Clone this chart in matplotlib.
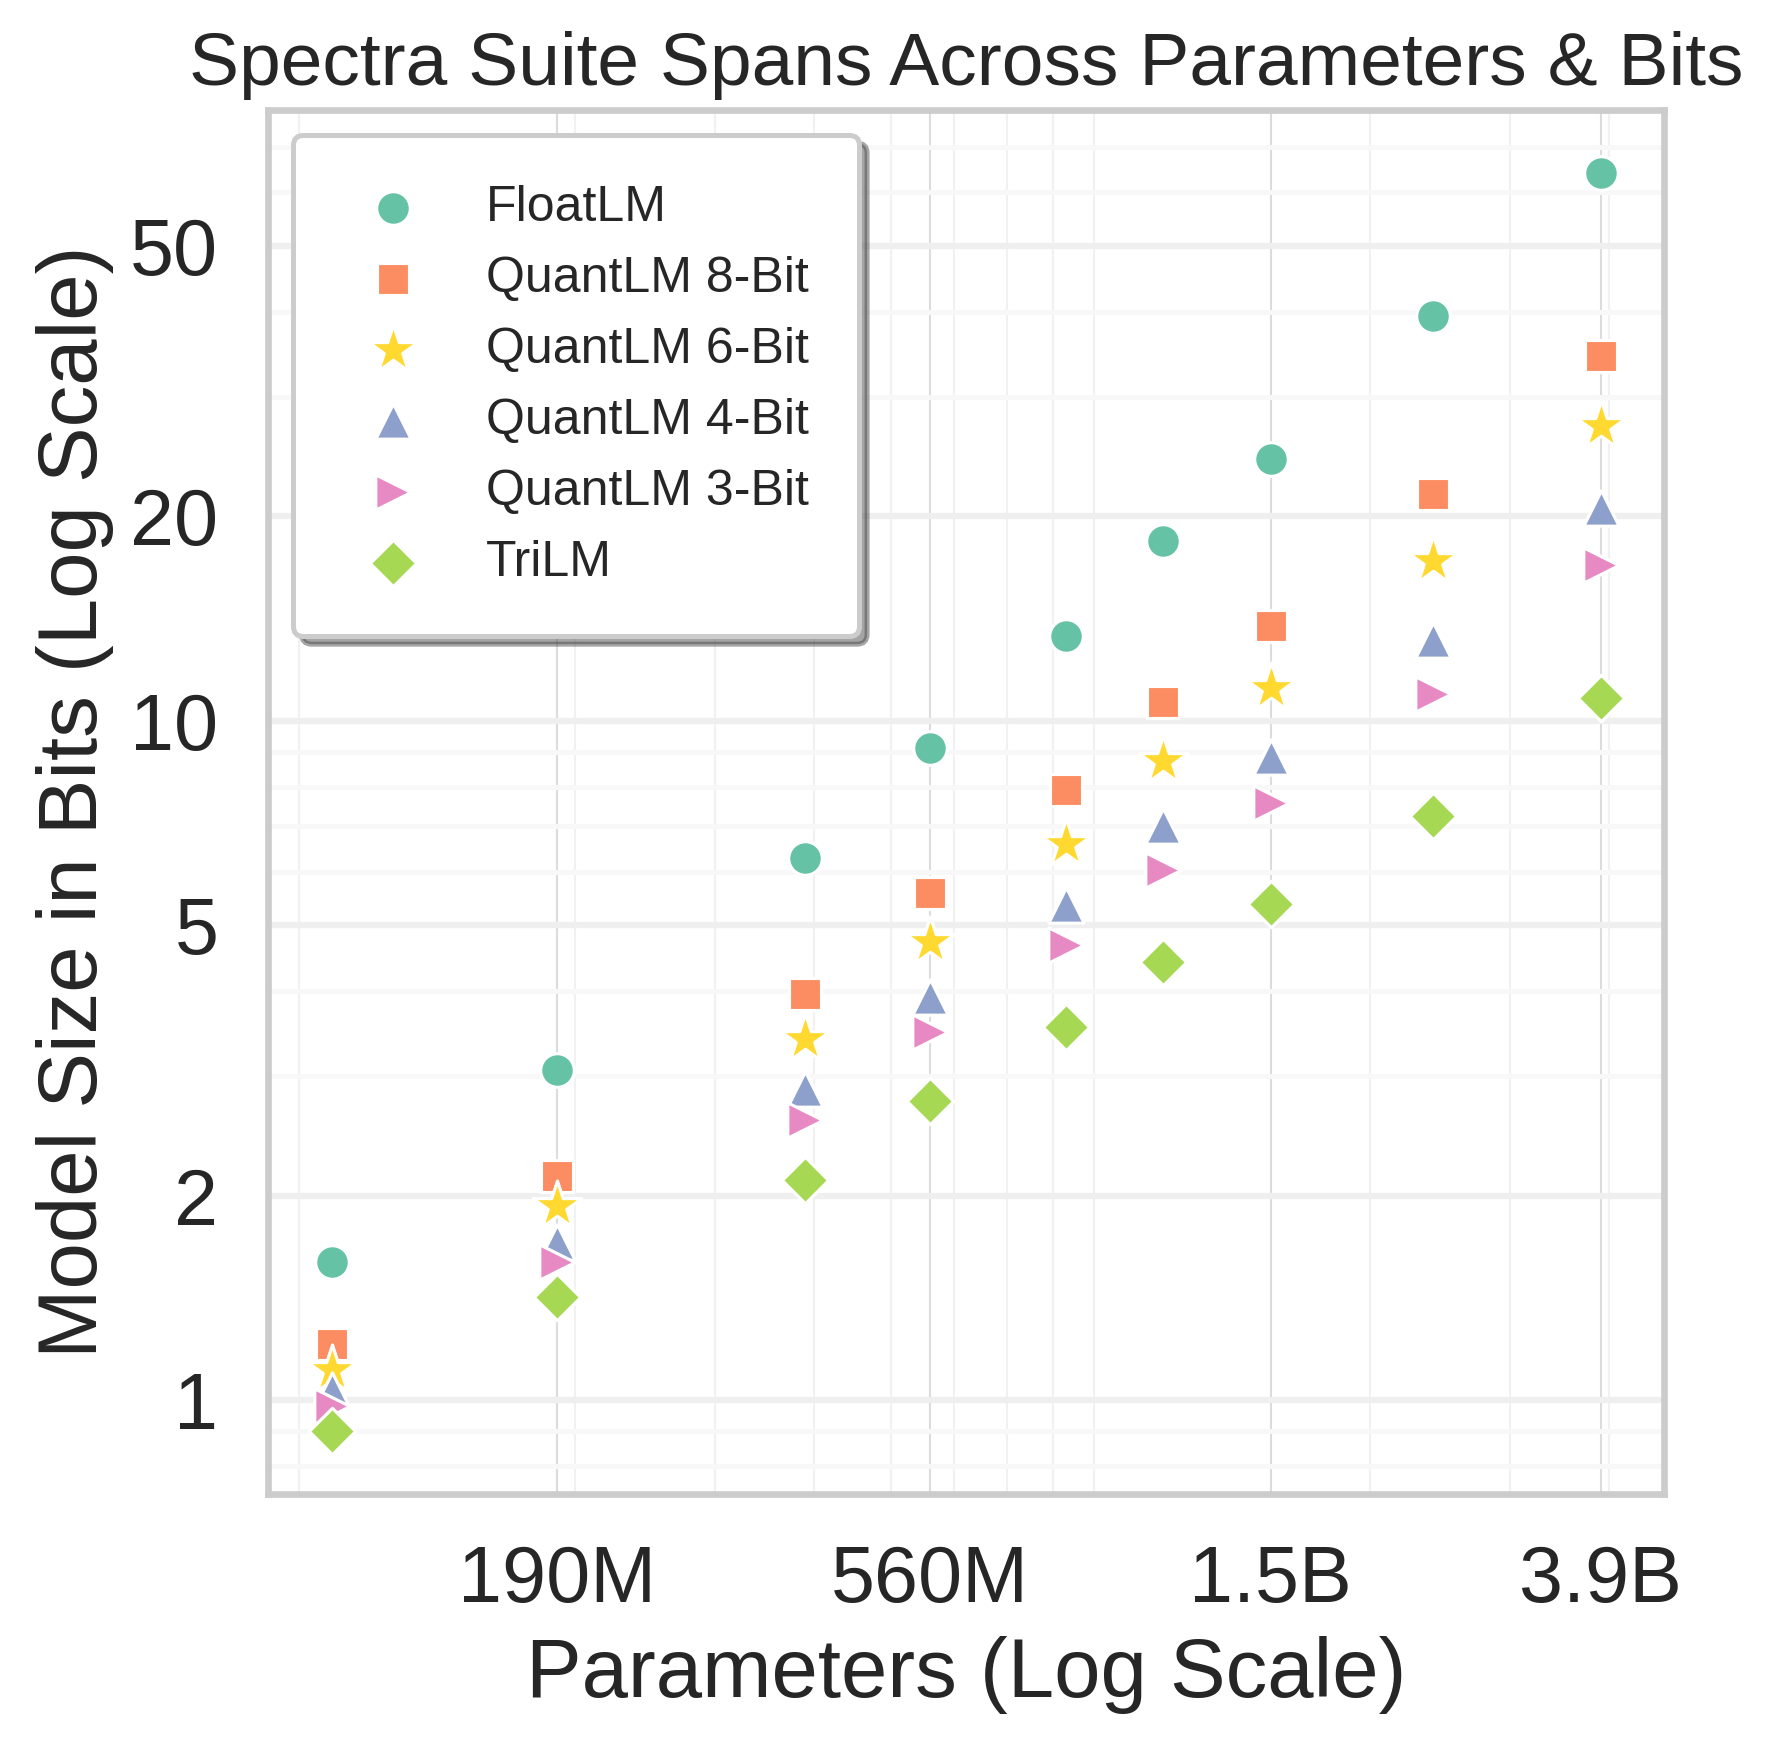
import matplotlib
matplotlib.use("Agg")
import matplotlib.pyplot as plt
from matplotlib.ticker import NullFormatter

plt.rcParams['font.family'] = ['Liberation Sans', 'DejaVu Sans']

# parameter counts of the Spectra suite
params = [99e6, 190e6, 390e6, 560e6, 830e6, 1.1e9, 1.5e9, 2.4e9, 3.9e9]

# model size in bits
float_lm = [1.60, 3.06, 6.29, 9.11, 13.35, 18.4, 24.3, 39.4, 64.1]
quant_8 = [1.21, 2.14, 3.96, 5.58, 7.91, 10.66, 13.8, 21.6, 34.5]
quant_6 = [1.11, 1.93, 3.40, 4.72, 6.58, 8.74, 11.2, 17.2, 27.2]
quant_4 = [1.035, 1.71, 2.87, 3.93, 5.35, 7.0, 8.85, 13.15, 20.6]
quant_3 = [0.98, 1.60, 2.59, 3.49, 4.68, 6.03, 7.56, 10.97, 16.95]
tri_lm = [0.90, 1.42, 2.11, 2.76, 3.55, 4.42, 5.37, 7.25, 10.8]

labels = ['FloatLM', 'QuantLM 8-Bit', 'QuantLM 6-Bit', 'QuantLM 4-Bit',
          'QuantLM 3-Bit', 'TriLM']
series = [float_lm, quant_8, quant_6, quant_4, quant_3, tri_lm]
colors = ['#66c2a5', '#fc8d62', '#ffd92f', '#8da0cb', '#e78ac3', '#a6d854']
markers = ['o', 's', '*', '^', '>', 'D']
sizes = [65, 62, 150, 72, 72, 62]

xtick_vals = [190e6, 560e6, 1.5e9, 3.9e9]
xtick_labels = ['190M', '560M', '1.5B', '3.9B']
ytick_vals = [1, 2, 5, 10, 20, 50]
ytick_labels = ['1', '2', '5', '10', '20', '50']

fig, ax = plt.subplots(figsize=(1775 / 300, 1749 / 300), dpi=300)
fig.subplots_adjust(left=0.1512, right=0.9375, top=0.9372, bottom=0.1456)

for vals, lab, c, m, s in zip(series, labels, colors, markers, sizes):
    ax.scatter(params, vals, label=lab, color=c, marker=m, s=s,
               edgecolor='white', linewidth=0.75, zorder=3)

ax.set_xscale('log')
ax.set_yscale('log')

ax.set_xticks(xtick_vals, labels=xtick_labels)
ax.set_yticks(ytick_vals, labels=ytick_labels)
ax.xaxis.set_minor_formatter(NullFormatter())
ax.yaxis.set_minor_formatter(NullFormatter())
ax.tick_params(which='both', length=0, pad=12, labelsize=19, colors='#262626')

# grid
ax.yaxis.grid(True, which='major', color='#efefef', lw=1.5, zorder=0)
ax.yaxis.grid(True, which='minor', color='#f8f8f8', lw=1.2, zorder=0)
ax.xaxis.grid(True, which='major', color='#dcdcdc', lw=0.5, zorder=0)
ax.xaxis.grid(True, which='minor', color='#f1f1f1', lw=0.5, zorder=0)
ax.set_axisbelow(True)

for sp in ax.spines.values():
    sp.set_color('#cccccc')
    sp.set_linewidth(1.6)

ax.set_title('Spectra Suite Spans Across Parameters & Bits', fontsize=18,
             color='#262626')
ax.set_xlabel('Parameters (Log Scale)', fontsize=20, color='#262626')
ax.set_ylabel('Model Size in Bits (Log Scale)', fontsize=20, color='#262626')

leg = ax.legend(loc='upper left', fontsize=12, frameon=True, shadow=True,
                fancybox=True, borderpad=1.0, labelspacing=0.5,
                handletextpad=0.85, handlelength=2.0, framealpha=1)
leg.get_frame().set_edgecolor('#cccccc')
leg.get_frame().set_linewidth(1.2)
for t in leg.get_texts():
    t.set_color('#262626')

fig.savefig('out.png', dpi=300)
